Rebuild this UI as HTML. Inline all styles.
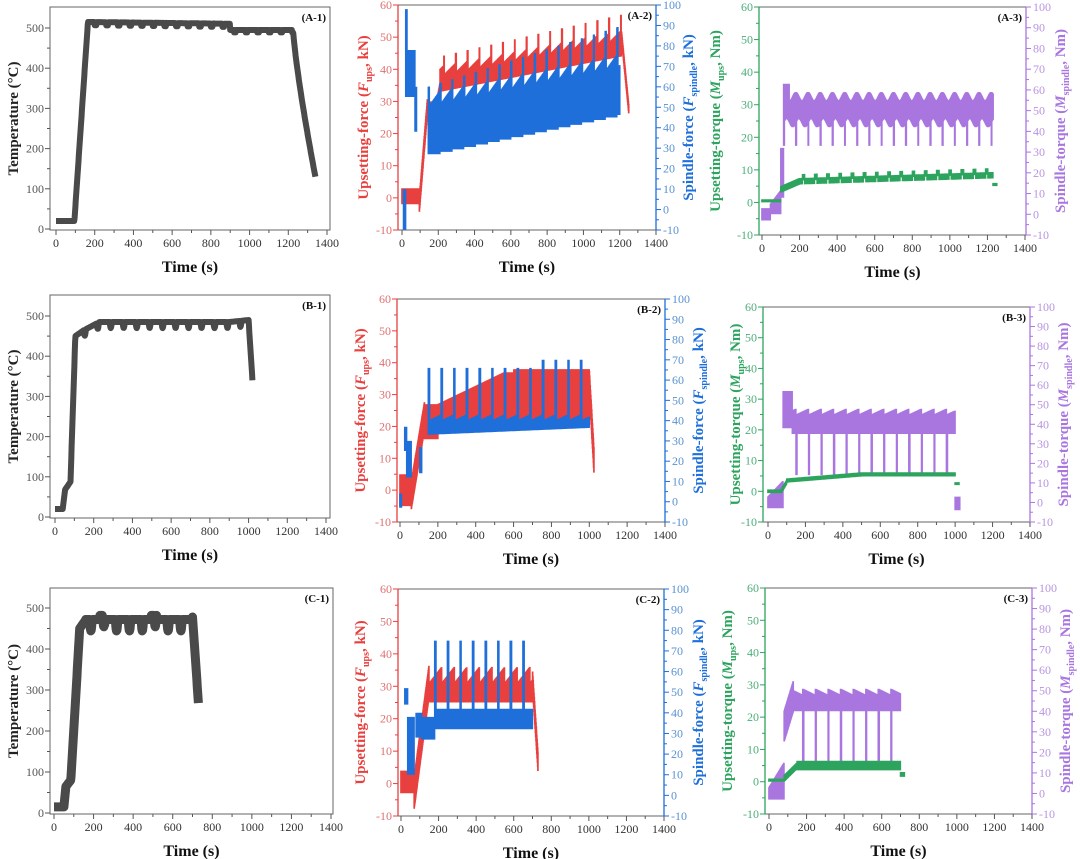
<!DOCTYPE html>
<html><head><meta charset="utf-8"><style>
html,body{margin:0;padding:0;background:#fff}
svg{display:block}
text{font-family:"Liberation Serif",serif}
</style></head><body>
<svg id="s" width="1080" height="859" xmlns="http://www.w3.org/2000/svg"></svg>
<script>
const S=document.getElementById('s');let out='';
const C={gray:'#4a4a4a',red:'#e8403e',blue:'#1e6fd9',green:'#2ca45e',purple:'#a976e0',
 redT:'#e07070',blueT:'#5a92d0',greenT:'#4cae7a',purpleT:'#b895e0',grayT:'#606060'};
function lin(a0,p0,a1,p1){return v=>p0+(v-a0)*(p1-p0)/(a1-a0);}
function cyc(t,t0,P){let f=((t-t0)%P)/P;return f<0?f+1:f;}
function axes(p){
 const {L,R,T,B}=p;
 out+=`<rect x="${L}" y="${T}" width="${R-L}" height="${B-T}" fill="none" stroke="#666" stroke-width="1"/>`;
 for(let v=0;v<=1400;v+=100){const x=p.X(v);const maj=v%200==0;
  out+=`<line x1="${x}" y1="${B}" x2="${x}" y2="${B+(maj?5:3)}" stroke="#555"/>`;
  if(maj)out+=`<text x="${x}" y="${B+17}" font-size="12" fill="#333" text-anchor="middle">${v}</text>`;}
 out+=`<text x="${(L+R)/2}" y="${B+42}" font-size="16" font-weight="bold" fill="#111" text-anchor="middle">Time (s)</text>`;
 const l=p.left;
 if(l.col)out+=`<line x1="${L}" y1="${T}" x2="${L}" y2="${B}" stroke="${l.col}" stroke-width="1.3"/>`;
 for(let v=l.min;v<=l.max;v+=l.step/2){const y=p.YL(v);const maj=Math.abs((v-l.min)%l.step)<1e-6;
  out+=`<line x1="${L}" y1="${y}" x2="${L-(maj?5:3)}" y2="${y}" stroke="${l.col||'#555'}"/>`;
  if(maj)out+=`<text x="${L-6}" y="${y+4}" font-size="12" fill="${l.tc}" text-anchor="end">${v}</text>`;}
 out+=`<text transform="translate(${l.tx},${(T+B)/2}) rotate(-90)" font-size="15" font-weight="bold" fill="${l.tcol}" text-anchor="middle">${l.title}</text>`;
 const r=p.right;
 if(r){out+=`<line x1="${R}" y1="${T}" x2="${R}" y2="${B}" stroke="${r.col}" stroke-width="1.3"/>`;
  for(let v=r.min;v<=r.max;v+=r.step/2){const y=p.YR(v);const maj=Math.abs((v-r.min)%r.step)<1e-6;
   out+=`<line x1="${R}" y1="${y}" x2="${R+(maj?5:3)}" y2="${y}" stroke="${r.col}"/>`;
   if(maj)out+=`<text x="${R+7}" y="${y+4}" font-size="12" fill="${r.tc}">${v}</text>`;}
  out+=`<text transform="translate(${r.tx},${(T+B)/2}) rotate(-90)" font-size="15" font-weight="bold" fill="${r.tcol}" text-anchor="middle">${r.title}</text>`;}
 out+=`<text x="${R-4}" y="${T+14}" font-size="11" font-weight="bold" fill="#111" text-anchor="end">${p.lab}</text>`;
}
function band(p,Y,fn,col,t0,t1,dt){let d='';dt=dt||1.5;
 for(let t=t0;t<=t1;t+=dt){const r=fn(t);if(!r)continue;const x=p.X(t).toFixed(1);
  let a=Y(r[0]),b=Y(r[1]);if(Math.abs(a-b)<2){b-=1;a+=1;}d+=`M${x} ${a.toFixed(1)}V${b.toFixed(1)}`;}
 out+=`<path d="${d}" stroke="${col}" stroke-width="1.7" fill="none"/>`;}
function line(p,Y,fn,col,t0,t1,w){let d='';for(let t=t0;t<=t1;t+=2){d+=(d?'L':'M')+p.X(t).toFixed(1)+' '+Y(fn(t)).toFixed(1);}
 out+=`<path d="${d}" stroke="${col}" stroke-width="${w}" fill="none" stroke-linejoin="round"/>`;}
const sub=(a,b,c)=>`${a}<tspan font-style="italic">${b}</tspan><tspan font-size="10" dy="4">${c}</tspan><tspan dy="-4">, </tspan>`;
const tempAx=tx=>({min:0,max:500,step:100,tc:'#555',tcol:'#222',tx:tx,title:'Temperature (°C)'});
const forceL=tx=>({min:-10,max:60,step:10,col:C.red,tc:C.redT,tcol:C.red,tx:tx,title:'Upsetting-force ('+sub('','F','ups')+'kN)'});
const forceR=tx=>({min:-10,max:100,step:10,col:C.blue,tc:C.blueT,tcol:C.blue,tx:tx,title:'Spindle-force ('+sub('','F','spindle')+'kN)'});
const torL=tx=>({min:-10,max:60,step:10,col:C.green,tc:C.greenT,tcol:C.green,tx:tx,title:'Upsetting-torque ('+sub('','M','ups')+'Nm)'});
const torR=tx=>({min:-10,max:100,step:10,col:C.purple,tc:C.purpleT,tcol:C.purple,tx:tx,title:'Spindle-torque ('+sub('','M','spindle')+'Nm)'});
function mk(L,R,T,B,x0,x1,lab,left,right,yl,yr){const p={L,R,T,B,lab,left,right,X:lin(0,x0,1400,x1)};
 p.YL=lin(yl[0],yl[1],yl[2],yl[3]);if(right)p.YR=lin(-10,B,100,T);axes(p);return p;}
// A-1
let p=mk(50,330,7,230,56,327,'(A-1)',tempAx(18),null,[0,229,500,28]);
line(p,p.YL,t=>{if(t<95)return 20;if(t<165)return 20+(t-95)/70*495;if(t<900){let f=cyc(t,200,60);return 515-(t-165)*0.006-(f<0.15?8:0);}
 if(t<1225){let f=cyc(t,200,60);return 495-(f<0.15?6:0);}return 495-365*Math.pow((t-1225)/115,0.8);},C.gray,0,1340,6);
// B-1
p=mk(50,330,295,518,55,326,'(B-1)',tempAx(18),null,[0,517,500,316]);
line(p,p.YL,t=>{if(t<40)return 20;if(t<52)return 20+(t-40)*4;if(t<80)return 68+(t-52)*0.7;if(t<105)return 88+(t-80)/25*362;if(t<150)return 450+(t-105)/45*15;
 if(t<1000){let f=cyc(t,215,67);let b=Math.min(485,465+(t-150)*0.25);if(t>900)b=485+(t-900)*0.05;return b-(f<0.18?15*Math.sin(f/0.18*Math.PI):0);}return 490-(t-1000)*7.5;},C.gray,0,1020,6);
// C-1
p=mk(50,333,588,814,54,331,'(C-1)',tempAx(18),null,[0,813,500,608]);
line(p,p.YL,t=>{let v;if(t<50)v=15;else if(t<60)v=15+(t-50)*5;else if(t<85)v=65+(t-60)*0.6;else if(t<130)v=80+(t-85)/45*370;else if(t<160)v=450+(t-130)*0.7;
 else if(t<700){let f=cyc(t,180,65);v=472-(f<0.2?28*Math.sin(f/0.2*Math.PI):0)+((t>230&&t<255)||(t>490&&t<520)?10:0);}else v=478-(t-700)*7;return v;},C.gray,0,730,9);
// A-2
p=mk(398,656,5,230,402,656,'(A-2)',forceL(368),forceR(693),[-10,230,60,5]);
band(p,p.YL,t=>{if(t<95)return[-2,3];if(t<140){let v=-2+(t-95)/45*31;return[v-3,v+2];}if(t<190)return[28,30];
 if(t<210)return[30,30+(t-190)/20*6];if(t<1210){let f=cyc(t,230,65);let lo=33+(t-210)*0.011,hi=38+(t-210)*0.011+3*f;if(f<0.06)hi=lo+11+(t-210)*0.002;return[lo,hi];}
 let hi=52-(t-1210)/40*23;return[hi-3,hi];},C.red,0,1250);
band(p,p.YR,t=>{if(t>=8&&t<20)return[-10,10];if(t>=20&&t<28)return[55,98];if(t>=28&&t<72)return[55,78];if(t>=72&&t<80)return[38,60];
 if(t>=145&&t<=1200){let f=cyc(t,145,65);let k=Math.floor((t-145)/65);let lo=27+k*1.2;let hi=50+(t-145)*0.018+7*f;if(f<0.08)hi=60+(t-145)*0.028;return[lo,hi];}return null;},C.blue,0,1200);
// B-2
p=mk(397,665,299,522,400,665,'(B-2)',forceL(365),forceR(703),[-10,522,60,299]);
band(p,p.YL,t=>{if(t<60)return[-5,5];if(t<130){let v=(t-60)/70*25;return[v-6,v+3];}if(t<200)return[16,27];
 if(t<1000){let hi=27+Math.min((t-200)/350,1)*10+(t>600?1:0);return[20,hi];}let hi=38-(t-1000)/25*25;return[hi-8,hi];},C.red,0,1025);
band(p,p.YR,t=>{if(t<8)return[-3,4];if(t>=25&&t<35)return[25,37];if(t>=35&&t<60)return[12,30];if(t>=105&&t<115)return[14,27];
 if(t>=150&&t<=1000){let f=cyc(t,150,67);let lo=33+(t-150)*0.004,hi=40+3*f;if(f<0.1)hi=66+(t>700?4:0);return[lo,hi];}return null;},C.blue,0,1000);
// C-2
p=mk(398,664,589,816,401,664,'(C-2)',forceL(365),forceR(703),[-10,816,60,589]);
band(p,p.YL,t=>{if(t<70)return[-3,4];if(t<150){let v=(t-70)/80*35;return[v-8,v+2];}if(t<700){let f=cyc(t,150,67);return[25,31+5*f];}let hi=35-(t-700)/30*26;return[hi-6,hi];},C.red,0,730);
band(p,p.YR,t=>{if(t>=20&&t<35)return[44,52];if(t>=35&&t<70)return[10,38];if(t>=80&&t<110)return[28,40];if(t>=110&&t<180)return[27,38];
 if(t>=180&&t<=700){let f=cyc(t,180,67);let hi=42;if(f<0.1)hi=75;return[32,hi];}return null;},C.blue,0,700);
// A-3
p=mk(759,1026,7,235,762,1025,'(A-3)',torL(720),torR(1065),[-10,235,60,7]);
band(p,p.YR,t=>{if(t<45)return[-3,3];if(t<100)return[0,5+(t-45)*0.12];if(t<115)return[8,32];
 if(t<=1230){let f=cyc(t,115,65);let lo=44+2*Math.sin(f*6.28),hi=57+2*Math.cos(f*6.28);if(t<145)hi=63;if(f<0.06)lo=33;return[lo,hi];}return null;},C.purple,0,1230);
band(p,p.YL,t=>{if(t<100)return[0,1];if(t<200){let v=4+(t-100)/100*2.5;return[v-1,v+1];}if(t<1230){let f=cyc(t,215,65);let v=6.5+(t-200)*0.0018+(f<0.2?1.2:0);return[v-1,v+1];}return[5,6];},C.green,0,1250);
// B-3
p=mk(763,1030,307,522,768,1030,'(B-3)',torL(740),torR(1068),[-10,522,60,307]);
band(p,p.YR,t=>{if(t<80)return[-3,3+t*0.1];if(t<130)return[38,57];
 if(t<=1000){let f=cyc(t,150,67);let lo=35,hi=45+3*f;if(f<0.07)lo=14;return[lo,hi];}if(t<1025)return[-4,3];return null;},C.purple,0,1025);
band(p,p.YL,t=>{if(t<70)return[-0.6,0.6];if(t<100){let v=(t-70)/30*3;return[v-0.7,v+0.7];}if(t<1000){let v=3.5+Math.min((t-100)*0.005,2);return[v-0.7,v+0.7];}return[2,3];},C.green,0,1020);
// C-3
p=mk(765,1032,588,814,769,1032,'(C-3)',torL(732),torR(1070),[-10,814,60,588]);
band(p,p.YR,t=>{if(t<80)return[-3,3+t*0.15];if(t<130)return[25+(t-80)*0.3,40+(t-80)*0.3];
 if(t<=700){let f=cyc(t,180,67);let lo=40,hi=48+3*(1-f);if(f<0.07)lo=12;return[lo,hi];}return null;},C.purple,0,700);
band(p,p.YL,t=>{if(t<80)return[0,1];if(t<150){let v=1+(t-80)/70*4;return[v-1,v+1];}if(t<700)return[3.5,6.5];return[1.5,3];},C.green,0,720);
S.innerHTML=out;
</script>
</body></html>
